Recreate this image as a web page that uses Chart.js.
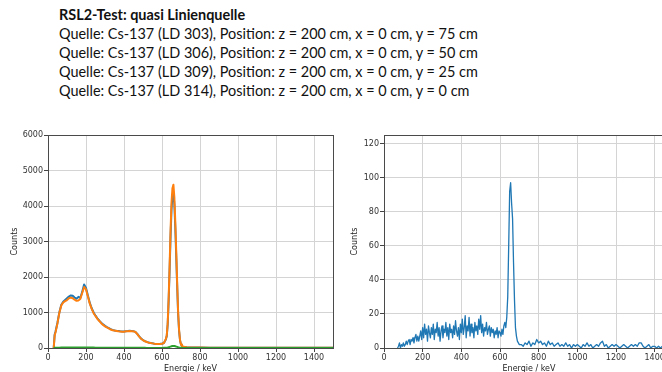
<!DOCTYPE html>
<html><head><meta charset="utf-8">
<script src="https://cdn.jsdelivr.net/npm/chart.js@4"></script>
<style>
html,body{margin:0;padding:0;width:662px;height:372px;overflow:hidden;background:#fff;}
#title{position:absolute;left:59px;top:5px;font-family:Lato,"Open Sans",sans-serif;color:#111;font-size:15px;}
#title div{white-space:nowrap;height:19px;line-height:19px;}
#title .b{font-weight:bold;}
#w1{position:absolute;left:0;top:125px;width:345px;height:253px;}
#w2{position:absolute;left:330px;top:125px;width:350px;height:253px;}
</style></head>
<body>
<div id="title">
<div class="b">RSL2-Test: quasi Linienquelle</div>
<div id="l2">Quelle: Cs-137 (LD 303), Position: z = 200 cm, x = 0 cm, y = 75 cm</div>
<div>Quelle: Cs-137 (LD 306), Position: z = 200 cm, x = 0 cm, y = 50 cm</div>
<div>Quelle: Cs-137 (LD 309), Position: z = 200 cm, x = 0 cm, y = 25 cm</div>
<div>Quelle: Cs-137 (LD 314), Position: z = 200 cm, x = 0 cm, y = 0 cm</div>
</div>
<div id="w1"><canvas id="c1" width="345" height="253"></canvas></div>
<div id="w2"><canvas id="c2" width="350" height="253"></canvas></div>
<script>
// ---- Left chart: energies (keV) and counts ----
const L_E = [30,35,40,50,60,70,80,90,100,110,120,130,140,150,160,170,180,190,200,210,220,230,240,250,260,270,280,290,300,310,320,330,340,350,360,370,380,390,400,410,420,430,440,450,460,470,480,490,500,510,520,530,540,550,560,570,580,590,600,610,620,625,630,635,640,645,650,655,660,665,670,675,680,685,690,695,700,705,710,720,730,750,800,850,900,950,1000,1050,1100,1150,1200,1250,1300,1350,1400,1450,1500];
const L_BLUE = [0,380,470,720,1010,1220,1300,1350,1400,1450,1480,1470,1420,1390,1440,1410,1580,1790,1690,1480,1270,1120,1000,910,835,770,715,665,625,590,560,530,510,495,485,478,470,466,465,474,476,484,480,474,455,396,326,264,224,193,172,153,142,131,122,116,116,117,121,140,240,335,665,1330,2180,3130,3900,4280,4380,4050,3380,2570,1710,950,475,210,95,57,38,29,20,15,12,10,9,8,8,7,7,6,6,6,5,5,4,4,4];
const L_ORANGE = [0,350,450,700,1000,1200,1280,1320,1350,1400,1420,1400,1360,1330,1340,1380,1550,1720,1650,1450,1250,1100,980,900,820,760,700,650,610,580,550,520,500,490,480,470,465,460,460,470,470,480,475,470,450,390,320,260,220,190,170,150,140,130,120,115,115,115,120,140,250,350,700,1400,2300,3300,4100,4500,4600,4250,3550,2700,1800,1000,500,220,100,60,40,30,20,15,12,10,9,8,8,7,7,6,6,6,5,5,4,4,4];
const L_GREEN = [0,5,6,8,10,12,13,14,14,15,15,15,14,14,14,14,15,17,16,15,13,12,11,10,9,9,8,8,7,7,7,6,6,6,6,6,6,6,6,6,6,6,6,6,6,5,5,4,4,4,3,3,3,3,3,3,3,3,3,4,6,9,14,22,30,40,50,57,60,57,50,40,30,20,12,7,4,2,2,1,1,1,1,1,1,1,1,1,1,1,1,1,1,1,0,0,0];
const L_YTICKS = [0,1000,2000,3000,4000,5000,6000];
const X_TICKS = [0,200,400,600,800,1000,1200,1400];

// ---- Right chart: energies (keV) and counts ----
const R_E = [70,75,80,85,90,95,
100,105,110,115,120,125,130,135,140,145,150,155,160,165,170,175,180,185,190,195,
200,205,210,215,220,225,230,235,240,245,250,255,260,265,270,275,280,285,290,295,
300,305,310,315,320,325,330,335,340,345,350,355,360,365,370,375,380,385,390,395,
400,405,410,415,420,425,430,435,440,445,450,455,460,465,470,475,480,485,490,495,
500,505,510,515,520,525,530,535,540,545,550,555,560,565,570,575,580,585,590,595,
600,605,610,615,620,625,630,635,640,645,650,655,660,665,670,675,680,685,690,695,
700,
710,720,730,740,750,760,770,780,790,
800,810,820,830,840,850,860,870,880,890,
900,910,920,930,940,950,960,970,980,990,
1000,1010,1020,1030,1040,1050,1060,1070,1080,1090,
1100,1110,1120,1130,1140,1150,1160,1170,1180,1190,
1200,1210,1220,1230,1240,1250,1260,1270,1280,1290,
1300,1310,1320,1330,1340,1350,1360,1370,1380,1390,
1400,1410,1420,1430,1440,1450,1460,1470,1480,1490,
1500];
const R_C = [0,1,3,0,2,1,
3,1,2,4,2,4,5,2,5,4,6,3,6,8,4,7,4,7,10,5,
12,6,14,8,11,4,13,9,6,12,8,14,5,11,9,15,7,12,4,10,
13,6,11,9,15,7,12,5,14,9,11,6,13,8,16,10,7,12,5,14,
9,17,8,12,19,6,13,10,18,7,14,9,12,6,15,10,13,8,17,11,
19,9,14,7,12,10,15,8,11,13,7,12,9,11,6,10,8,12,6,10,
9,7,11,8,13,15,12,18,30,60,92,97,85,76,50,28,12,7,4,3,
2,
2,1,3,2,4,1,3,2,5,
3,4,2,3,1,4,2,3,1,2,
3,1,2,1,3,1,2,0,2,1,
2,1,0,2,1,3,1,2,0,1,
2,1,3,4,1,2,0,1,2,1,
2,1,0,1,2,1,0,1,2,1,
2,1,3,3,1,0,1,2,0,1,
1,0,1,0,1,0,1,0,1,0,
1];
const R_YTICKS = [0,20,40,60,80,100,120];

const FONT = {family:'"DejaVu Sans", sans-serif', size:8};
const pts = (xs, ys) => xs.map((x,i)=>({x:x, y:ys[i]}));

const framePlugin = {id:'frame', afterDatasetsDraw(chart){
  const a = chart.chartArea, ctx = chart.ctx;
  ctx.save(); ctx.strokeStyle='#4a4a4a'; ctx.lineWidth=1;
  ctx.strokeRect(Math.round(a.left)+0.5, Math.round(a.top)+0.5, Math.round(a.right-a.left), Math.round(a.bottom-a.top));
  ctx.restore();
}};

function makeOpts(ymax, yticks, yWidth, yTitlePad, padRight){
  return {
    responsive:false, animation:false,
    layout:{padding:{left:0, right:padRight, top:10, bottom:0}},
    plugins:{legend:{display:false}, tooltip:{enabled:false}},
    elements:{point:{radius:0}, line:{tension:0, borderJoinStyle:'round'}},
    scales:{
      x:{type:'linear', min:0, max:1500,
        afterBuildTicks:(s)=>{ s.ticks = X_TICKS.map(v=>({value:v})); },
        afterFit:(s)=>{ s.height = 30; },
        ticks:{font:FONT, color:'#333', padding:1, autoSkip:false, maxRotation:0, callback:(v)=>String(v)},
        grid:{color:'#d4d4d4', lineWidth:1, tickLength:4, tickColor:'#444'},
        border:{color:'#4a4a4a', width:1},
        title:{display:true, text:'Energie / keV', font:FONT, color:'#222', padding:{top:0,bottom:4}}
      },
      y:{type:'linear', min:0, max:ymax,
        afterBuildTicks:(s)=>{ s.ticks = yticks.map(v=>({value:v})); },
        afterFit:(s)=>{ s.width = yWidth; },
        ticks:{font:FONT, color:'#333', padding:1, autoSkip:false, callback:(v)=>String(v)},
        grid:{color:'#d4d4d4', lineWidth:1, tickLength:4, tickColor:'#444'},
        border:{color:'#4a4a4a', width:1},
        title:{display:true, text:'Counts', font:FONT, color:'#222', padding:{top:yTitlePad,bottom:0}}
      }
    }
  };
}

new Chart(document.getElementById('c1'), {
  type:'line',
  data:{datasets:[
    {label:'LD 303', data:pts(L_E,L_BLUE), borderColor:'#1f77b4', borderWidth:2, order:3},
    {label:'LD 306', data:pts(L_E,L_ORANGE), borderColor:'#ff7f0e', borderWidth:2, order:2},
    {label:'LD 309', data:pts(L_E,L_GREEN), borderColor:'#2ca02c', borderWidth:2, order:1}
  ]},
  options:makeOpts(6000, L_YTICKS, 48, 10, 12),
  plugins:[framePlugin]
});

new Chart(document.getElementById('c2'), {
  type:'line',
  data:{datasets:[
    {label:'LD 314', data:pts(R_E,R_C), borderColor:'#1f77b4', borderWidth:1.3}
  ]},
  options:makeOpts(125, R_YTICKS, 54, 20, 6),
  plugins:[framePlugin]
});

// fit title text width to reference
(function(){
  const l2 = document.getElementById('l2');
  const w = l2.getBoundingClientRect().width;
  const t = document.getElementById('title');
  const fs = 15 * 419 / w;
  t.style.fontSize = fs.toFixed(2)+'px';
})();
</script>
</body></html>
